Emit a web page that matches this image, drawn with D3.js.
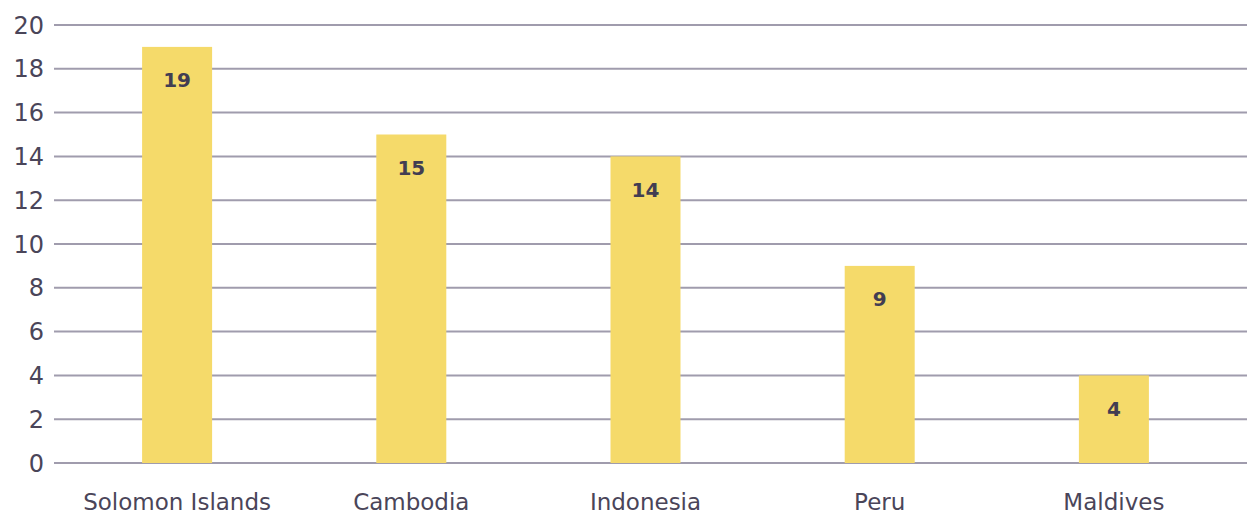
<!DOCTYPE html>
<html>
<head>
<meta charset="utf-8">
<script src="https://cdn.jsdelivr.net/npm/d3@7"></script>
<style>
  body { margin: 0; background: #fff; overflow: hidden; }
  text { font-family: "DejaVu Sans", sans-serif; }
</style>
</head>
<body>
<div id="chart"></div>
<script>
var countries = ["Solomon Islands", "Cambodia", "Indonesia", "Peru", "Maldives"];
var counts = [19, 15, 14, 9, 4];
var yTicks = [0, 2, 4, 6, 8, 10, 12, 14, 16, 18, 20];

function chartCounts(width, height) {
  var data = countries.map((c, i) => ({ country: c, count: counts[i] }));

  var svg = d3.select("#chart")
    .append("svg")
      .attr("width", width)
      .attr("height", height)
      .style("display", "block");

  var y = d3.scaleLinear()
    .domain([0, 20])
    .range([463, 25]);

  var x = d3.scaleBand()
    .domain(countries)
    .range([60, 1231])
    .paddingInner(0.7)
    .paddingOuter(0.35);

  // gridlines
  svg.append("g")
    .selectAll("line")
    .data(yTicks)
    .join("line")
      .attr("x1", 54)
      .attr("x2", width)
      .attr("y1", d => y(d))
      .attr("y2", d => y(d))
      .attr("stroke", "#a09cad")
      .attr("stroke-width", 2);

  // y labels
  svg.append("g")
    .selectAll("text")
    .data(yTicks)
    .join("text")
      .attr("x", 44)
      .attr("y", d => y(d))
      .attr("dy", "0.36em")
      .attr("text-anchor", "end")
      .attr("fill", "#4a4559")
      .attr("font-size", 24)
      .text(d => d);

  svg.append("g")
    .selectAll("rect")
    .data(data)
    .join("rect")
      .attr("x", d => x(d.country) + (x.bandwidth() - 70) / 2)
      .attr("width", 70)
      .attr("y", d => y(d.count))
      .attr("height", d => y(0) - y(d.count))
      .attr("fill", "#f5da6a");

  svg.append("g")
    .selectAll("text")
    .data(data)
    .join("text")
      .attr("x", d => x(d.country) + x.bandwidth() / 2)
      .attr("y", d => y(d.count) + 33)
      .attr("dy", "0.36em")
      .attr("text-anchor", "middle")
      .attr("font-weight", "bold")
      .attr("font-size", 20)
      .attr("fill", "#423d52")
      .text(d => d.count);

  svg.append("g")
    .selectAll("text")
    .data(countries)
    .join("text")
      .attr("x", d => x(d) + x.bandwidth() / 2)
      .attr("y", 510)
      .attr("text-anchor", "middle")
      .attr("fill", "#4a4559")
      .attr("font-size", 23)
      .text(d => d);
}

chartCounts(1247, 514);
</script>
</body>
</html>
